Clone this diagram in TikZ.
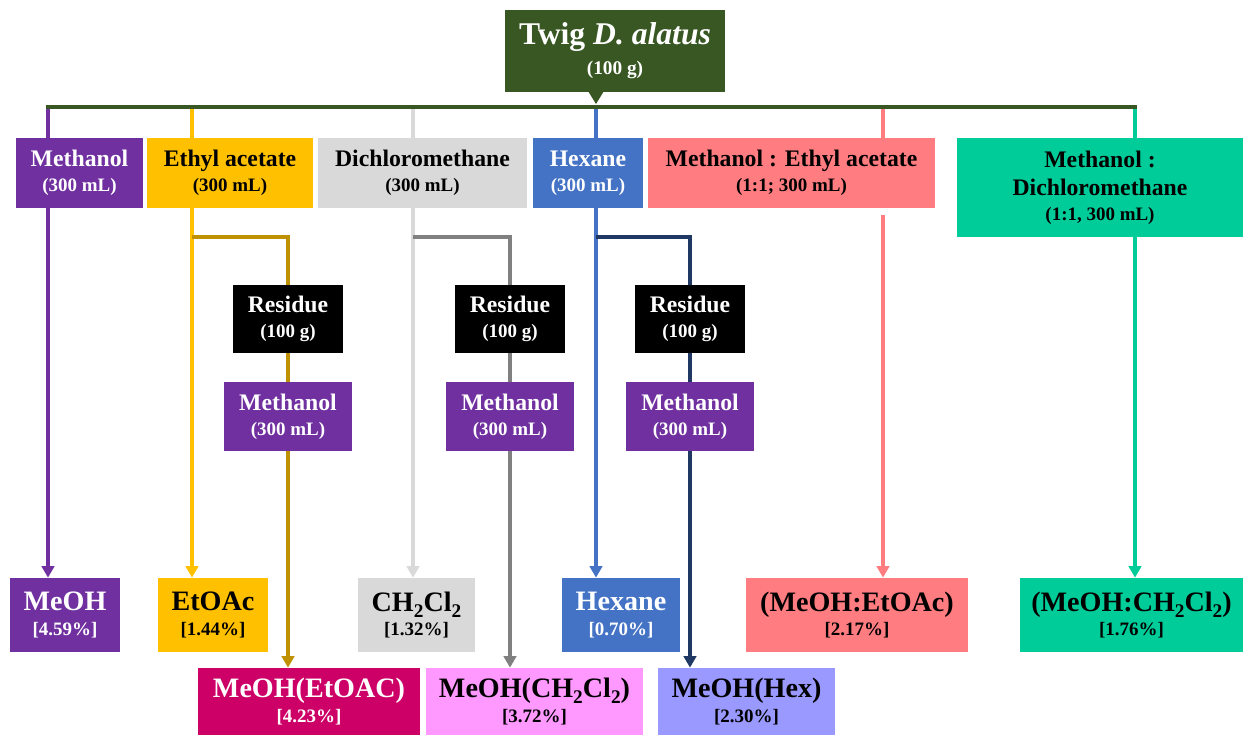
\documentclass[tikz,border=0pt]{standalone}
\usepackage{fontspec}
\setmainfont{Liberation Serif}
\usetikzlibrary{arrows.meta}
\definecolor{cTitle}{HTML}{385723}
\definecolor{cPurple}{HTML}{7030A0}
\definecolor{cYellow}{HTML}{FFC000}
\definecolor{cGray}{HTML}{D9D9D9}
\definecolor{cBlue}{HTML}{4472C4}
\definecolor{cPink}{HTML}{FF7C80}
\definecolor{cTeal}{HTML}{00CC99}
\definecolor{cGold}{HTML}{BF9000}
\definecolor{cDGray}{HTML}{808080}
\definecolor{cNavy}{HTML}{203864}
\definecolor{cCrimson}{HTML}{CC0066}
\definecolor{cMagenta}{HTML}{FF99FF}
\definecolor{cLav}{HTML}{9999FF}
\newcommand\hA[1]{{\fontsize{13.5}{14}\selectfont #1}}
\newcommand\hB[1]{{\fontsize{16}{14}\selectfont #1}}
\newcommand\subtwo{\raisebox{-0.45ex}{\fontsize{11}{11}\selectfont 2}}
\begin{document}
\begin{tikzpicture}[x=0.02cm,y=-0.02cm,
  box/.style={rectangle, inner sep=0pt, align=center, font=\bfseries\fontsize{10.8}{14}\selectfont},
  topbox/.style={box, minimum height=1.4cm},
  resbox/.style={box, fill=black, text=white, minimum width=2.2cm, minimum height=1.36cm},
  mbox/.style={box, fill=cPurple, text=white, minimum width=2.58cm, minimum height=1.38cm},
  botbox/.style={box, minimum height=1.48cm},
  lowbox/.style={box, minimum height=1.34cm},
  conn/.style={line width=2.1pt},
  arr/.style={conn, -{Triangle[length=6.5pt,width=7pt]}},
  barline/.style={line width=2.6pt, cTitle}]
\useasboundingbox (0,0) rectangle (1245,735);

% title
\node[box, fill=cTitle, text=white, minimum width=4.4cm, minimum height=1.64cm,
  font=\bfseries\fontsize{11}{17}\selectfont] (title) at (615,51)
  {{\fontsize{18}{17}\selectfont Twig \textit{D. alatus}}\\(100 g)};
\fill[cTitle] (588,91) -- (604,91) -- (596,104) -- cycle;

% top row
\node[topbox, fill=cPurple, text=white, minimum width=2.54cm] (meth1) at (79.5,173) {\hA{Methanol}\\(300 mL)};
\node[topbox, fill=cYellow, minimum width=3.32cm] (ea1) at (230,173) {\hA{Ethyl acetate}\\(300 mL)};
\node[topbox, fill=cGray, minimum width=4.18cm] (dcm1) at (422.5,173) {\hA{Dichloromethane}\\(300 mL)};
\node[topbox, fill=cBlue, text=white, minimum width=2.2cm] (hex1) at (588,173) {\hA{Hexane}\\(300 mL)};
\node[topbox, fill=cPink, minimum width=5.74cm] (mea1) at (791.5,173) {\hA{Methanol : Ethyl acetate}\\(1:1; 300 mL)};
\node[box, fill=cTeal, minimum width=5.72cm, minimum height=1.98cm] (mdcm1) at (1100,187.5)
  {\hA{Methanol :}\\[2pt]\hA{Dichloromethane}\\(1:1, 300 mL)};

% residue / methanol
\node[resbox] (res1) at (288,319) {\hA{Residue}\\(100 g)};
\node[resbox] (res2) at (510,319) {\hA{Residue}\\(100 g)};
\node[resbox] (res3) at (690,319) {\hA{Residue}\\(100 g)};
\node[mbox] (m2) at (288,416.5) {\hA{Methanol}\\(300 mL)};
\node[mbox] (m3) at (510,416.5) {\hA{Methanol}\\(300 mL)};
\node[mbox] (m4) at (690,416.5) {\hA{Methanol}\\(300 mL)};

% bottom row 1
\node[botbox, fill=cPurple, text=white, minimum width=2.2cm] (meoh) at (65,615) {\hB{MeOH}\\{[4.59\%]}};
\node[botbox, fill=cYellow, minimum width=2.2cm] (etoac) at (213,615) {\hB{EtOAc}\\{[1.44\%]}};
\node[botbox, fill=cGray, minimum width=2.34cm] (ch2cl2) at (416.5,615) {\hB{CH\subtwo Cl\subtwo}\\{[1.32\%]}};
\node[botbox, fill=cBlue, text=white, minimum width=2.36cm] (hexane) at (621,615) {\hB{Hexane}\\{[0.70\%]}};
\node[botbox, fill=cPink, minimum width=4.44cm] (mea) at (857,615) {\hB{(MeOH:EtOAc)}\\{[2.17\%]}};
\node[botbox, fill=cTeal, minimum width=4.46cm] (mdcm) at (1131.5,615) {\hB{(MeOH:CH\subtwo Cl\subtwo)}\\{[1.76\%]}};

% bottom row 2
\node[lowbox, fill=cCrimson, text=white, minimum width=4.44cm] (meea) at (309,701.5) {\hB{MeOH(EtOAC)}\\{[4.23\%]}};
\node[lowbox, fill=cMagenta, minimum width=4.34cm] (medcm) at (534.5,701.5) {\hB{MeOH(CH\subtwo Cl\subtwo)}\\{[3.72\%]}};
\node[lowbox, fill=cLav, minimum width=3.54cm] (mehex) at (746.5,701.5) {\hB{MeOH(Hex)}\\{[2.30\%]}};

% bar coordinates
\coordinate (b1) at (48,107);
\coordinate (b2) at (192,107);
\coordinate (b3) at (413,107);
\coordinate (b4) at (596,107);
\coordinate (b5) at (883,107);
\coordinate (b6) at (1135,107);
\coordinate (r1) at (288,237);
\coordinate (r2) at (510,237);
\coordinate (r3) at (690,237);

% verticals from bar
\draw[conn,cPurple] (b1) -- (b1 |- meth1.north);
\draw[conn,cYellow] (b2) -- (b2 |- ea1.north);
\draw[conn,cGray] (b3) -- (b3 |- dcm1.north);
\draw[conn,cBlue] (b4) -- (b4 |- hex1.north);
\draw[conn,cPink] (b5) -- (b5 |- mea1.north);
\draw[conn,cTeal] (b6) -- (b6 |- mdcm1.north);
\draw[barline] ([xshift=-1pt]b1) -- ([xshift=1pt]b6);

% main arrows
\draw[arr,cPurple] (b1 |- meth1.south) -- (b1 |- meoh.north);
\draw[arr,cYellow] (b2 |- ea1.south) -- (b2 |- etoac.north);
\draw[arr,cGray] (b3 |- dcm1.south) -- (b3 |- ch2cl2.north);
\draw[arr,cBlue] (b4 |- hex1.south) -- (b4 |- hexane.north);
\draw[arr,cPink, shorten <=4pt] (b5 |- mea1.south) -- (b5 |- mea.north);
\draw[arr,cTeal] (b6 |- mdcm1.south) -- (b6 |- mdcm.north);

% branches
\draw[conn,cGold] (b2 |- r1) -- (r1) -- (res1.north);
\draw[conn,cGold] (res1.south) -- (m2.north);
\draw[arr,cGold] (m2.south) -- (m2.south |- meea.north);
\draw[conn,cDGray] (b3 |- r2) -- (r2) -- (res2.north);
\draw[conn,cDGray] (res2.south) -- (m3.north);
\draw[arr,cDGray] (m3.south) -- (m3.south |- medcm.north);
\draw[conn,cNavy] (b4 |- r3) -- (r3) -- (res3.north);
\draw[conn,cNavy] (res3.south) -- (m4.north);
\draw[arr,cNavy] (m4.south) -- (m4.south |- mehex.north);
\end{tikzpicture}
\end{document}
